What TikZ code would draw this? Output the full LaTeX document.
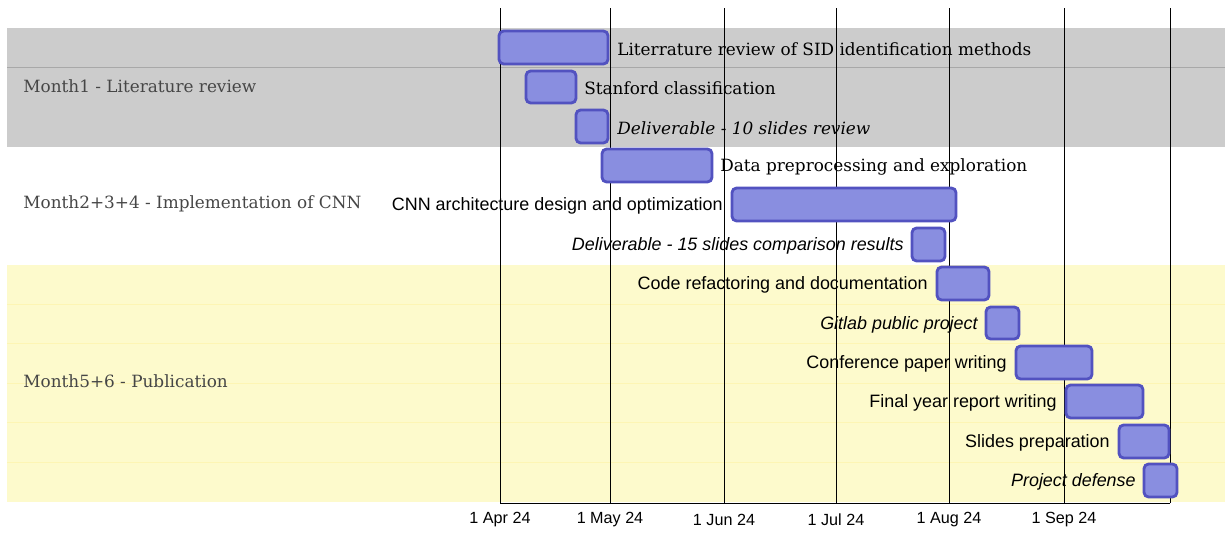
\documentclass[tikz,border=0pt]{standalone}
\usepackage{fontspec}
\setmainfont{DejaVu Serif}
\setsansfont{Liberation Sans}
\usetikzlibrary{positioning}

\definecolor{bandgray}{RGB}{204,204,204}
\definecolor{bandline}{RGB}{168,168,168}
\definecolor{bandyellow}{RGB}{253,250,204}
\definecolor{yellowline}{RGB}{253,245,180}
\definecolor{barfill}{RGB}{137,142,224}
\definecolor{bardraw}{RGB}{82,82,192}
\definecolor{grouptext}{RGB}{70,70,70}

\tikzset{
  bar/.style={fill=barfill, draw=bardraw, line width=1.6pt, rounded corners=2.6pt},
  task/.style={font=\fontsize{9.6}{11}\selectfont, inner sep=0pt},
  tasksans/.style={font=\sffamily\fontsize{10.2}{12}\selectfont, inner sep=0pt},
  group/.style={font=\fontsize{9.6}{11}\selectfont, text=grouptext, inner sep=0pt, anchor=west},
  datelabel/.style={font=\sffamily\fontsize{9.2}{11}\selectfont, inner sep=0pt}
}

\begin{document}
\begin{tikzpicture}[x=0.02cm, y=-0.02cm]
    \useasboundingbox (0,0) rectangle (1225,534);

    % Bands of the three phases
    \fill[bandgray] (7,28) rectangle (1225,147);
    \draw[bandline, line width=0.5pt] (7,67) -- (1225,67);
    \fill[bandyellow] (7,265) rectangle (1225,502);
    \draw[yellowline, line width=0.4pt] (7,304) -- (1225,304);
    \draw[yellowline, line width=0.4pt] (7,343) -- (1225,343);
    \draw[yellowline, line width=0.4pt] (7,383) -- (1225,383);
    \draw[yellowline, line width=0.4pt] (7,422) -- (1225,422);
    \draw[yellowline, line width=0.4pt] (7,462) -- (1225,462);

    % Month lines
    \coordinate (apr) at (500,503);
    \coordinate (may) at (610,503);
    \coordinate (jun) at (724,503);
    \coordinate (jul) at (836,503);
    \coordinate (aug) at (949,503);
    \coordinate (sep) at (1064,503);
    \coordinate (oct) at (1170,503);
    \draw[line width=0.55pt] (apr) -- (500,8);
    \draw[line width=0.55pt] (may) -- (610,8);
    \draw[line width=0.55pt] (jun) -- (724,8);
    \draw[line width=0.55pt] (jul) -- (836,8);
    \draw[line width=0.55pt] (aug) -- (949,8);
    \draw[line width=0.55pt] (sep) -- (1064,8);
    \draw[line width=0.55pt] (oct) -- (1170,8);
    \draw[line width=0.55pt] (apr) -- (oct);

    % Dates
    \node[datelabel] (dapr) at (500,520) {1 Apr 24};
    \node[datelabel] (dmay) at (610,520) {1 May 24};
    \node[datelabel] (djun) at (724,520) {1 Jun 24};
    \node[datelabel] (djul) at (836,520) {1 Jul 24};
    \node[datelabel] (daug) at (949,520) {1 Aug 24};
    \node[datelabel] (dsep) at (1064,520) {1 Sep 24};

    % Phase names
    \node[group] (m1) at (23,86) {Month1 - Literature review};
    \node[group] (m2) at (23,204) {Month2+3+4 - Implementation of CNN};
    \node[group] (m3) at (23,381) {Month5+6 - Publication};

    % Tasks
    \draw[bar] (499,31) rectangle (608,64);
    \draw[bar] (526,71) rectangle (576,103);
    \draw[bar] (576,110) rectangle (608,143);
    \draw[bar] (602,149) rectangle (712,182);
    \draw[bar] (732,188) rectangle (956,221);
    \draw[bar] (912,228) rectangle (945,261);
    \draw[bar] (937,267) rectangle (989,300);
    \draw[bar] (986,307) rectangle (1019,339);
    \draw[bar] (1016,346) rectangle (1092,379);
    \draw[bar] (1066,385) rectangle (1143,418);
    \draw[bar] (1119,425) rectangle (1169,458);
    \draw[bar] (1144,464) rectangle (1177,497);

    % Task labels
    \node[task, anchor=west] (t1) at (617,49) {Literrature review of SID identification methods};
    \node[task, anchor=west] (t2) at (584,88.5) {Stanford classification};
    \node[task, anchor=west] (t3) at (617,128) {\itshape Deliverable - 10 slides review};
    \node[task, anchor=west] (t4) at (720,167) {Data preprocessing and exploration};
    \node[tasksans, anchor=east] (t5) at (723,206) {CNN architecture design and optimization};
    \node[tasksans, anchor=east] (t6) at (904,245.5) {\itshape Deliverable - 15 slides comparison results};
    \node[tasksans, anchor=east] (t7) at (928,285) {Code refactoring and documentation};
    \node[tasksans, anchor=east] (t8) at (978,324.5) {\itshape Gitlab public project};
    \node[tasksans, anchor=east] (t9) at (1007,363.5) {Conference paper writing};
    \node[tasksans, anchor=east] (t10) at (1057,403) {Final year report writing};
    \node[tasksans, anchor=east] (t11) at (1110,442.5) {Slides preparation};
    \node[tasksans, anchor=east] (t12) at (1136,482) {\itshape Project defense};
\end{tikzpicture}
\end{document}
